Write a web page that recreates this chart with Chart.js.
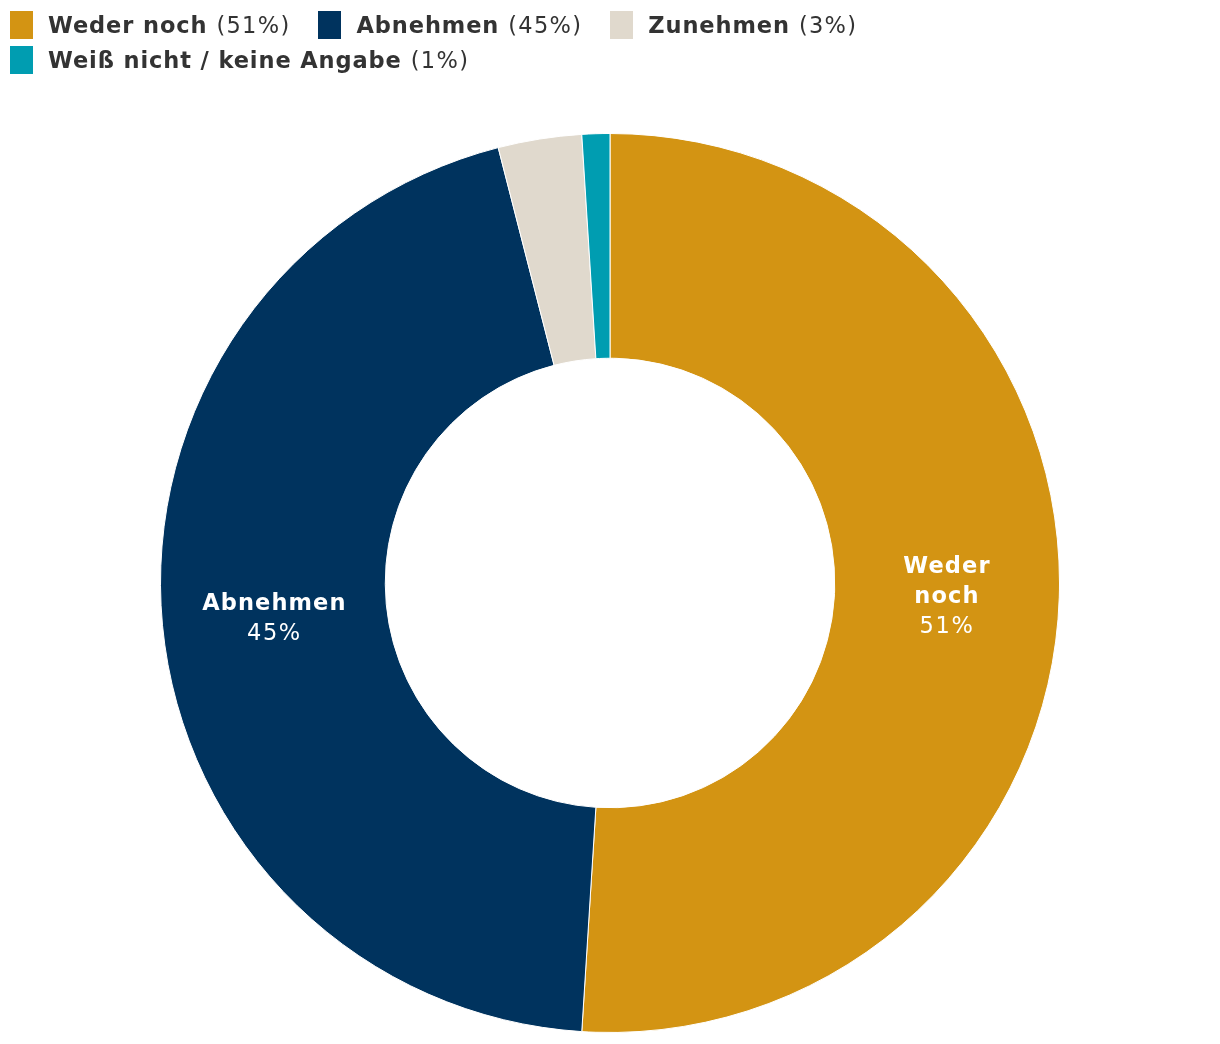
<!DOCTYPE html>
<html>
<head>
<meta charset="utf-8">
<script src="https://cdn.jsdelivr.net/npm/chart.js@4/dist/chart.umd.min.js"></script>
<style>
  html, body { margin: 0; padding: 0; background: #fff; }
  #wrap { position: relative; width: 1220px; height: 1044px; }
  #legend { position: absolute; left: 10px; top: 0; width: 1200px; font-family: "DejaVu Sans", Verdana, sans-serif; font-size: 22.5px; color: #333; }
  .row { position: absolute; left: 0; height: 28px; display: flex; align-items: center; white-space: nowrap; }
  .item { display: flex; align-items: center; margin-right: 28px; }
  .sw { width: 23px; height: 28px; display: inline-block; margin-right: 15px; flex: none; }
  .item b { font-weight: bold; letter-spacing: 0.9px; }
  .item i { font-style: normal; letter-spacing: 1.3px; margin-left: 9px; }
  canvas { position: absolute; left: 0; top: 0; }
</style>
</head>
<body>
<div id="wrap">
  <canvas id="c" width="1220" height="1044"></canvas>
  <div id="legend"></div>
</div>
<script>
const categories = ["Weder noch", "Abnehmen", "Zunehmen", "Weiß nicht / keine Angabe"];
const values = [51, 45, 3, 1];
const colors = ["#D39413", "#00335E", "#E0D9CD", "#009DB1"];
const sliceLabels = [["Weder", "noch"], ["Abnehmen"], null, null];
const legendRows = [[0, 1, 2], [3]];

const legend = document.getElementById('legend');
legendRows.forEach((r, ri) => {
  const row = document.createElement('div');
  row.className = 'row';
  row.style.top = (11 + ri * 35) + 'px';
  r.forEach(i => {
    const it = document.createElement('span');
    it.className = 'item';
    const sw = document.createElement('span');
    sw.className = 'sw';
    sw.style.background = colors[i];
    it.appendChild(sw);
    const b = document.createElement('b');
    b.textContent = categories[i];
    it.appendChild(b);
    const p = document.createElement('i');
    p.textContent = '(' + values[i] + '%)';
    it.appendChild(p);
    row.appendChild(it);
  });
  legend.appendChild(row);
});

const labelPlugin = {
  id: 'sliceLabels',
  afterDatasetsDraw(chart) {
    const ctx = chart.ctx;
    const meta = chart.getDatasetMeta(0);
    meta.data.forEach((arc, i) => {
      const lines = sliceLabels[i];
      if (!lines) return;
      const p = arc.tooltipPosition();
      const all = lines.map(l => ({ text: l, bold: true })).concat([{ text: values[i] + '%', bold: false }]);
      const lh = 30;
      const y0 = p.y + 4 - (all.length - 1) * lh / 2;
      ctx.save();
      ctx.fillStyle = '#ffffff';
      ctx.textAlign = 'center';
      ctx.textBaseline = 'middle';
      all.forEach((l, k) => {
        ctx.font = (l.bold ? 'bold ' : '') + '22.5px "DejaVu Sans", Verdana, sans-serif';
        ctx.letterSpacing = l.bold ? '1.1px' : '1.6px';
        ctx.fillText(l.text, p.x, y0 + k * lh);
      });
      ctx.restore();
    });
  }
};

new Chart(document.getElementById('c'), {
  type: 'doughnut',
  data: {
    labels: categories,
    datasets: [{
      data: values,
      backgroundColor: colors,
      borderColor: '#ffffff',
      borderWidth: 1
    }]
  },
  options: {
    responsive: false,
    animation: false,
    cutout: '50%',
    layout: { padding: { top: 133, bottom: 11 } },
    plugins: { legend: { display: false }, tooltip: { enabled: false } }
  },
  plugins: [labelPlugin]
});
</script>
</body>
</html>
